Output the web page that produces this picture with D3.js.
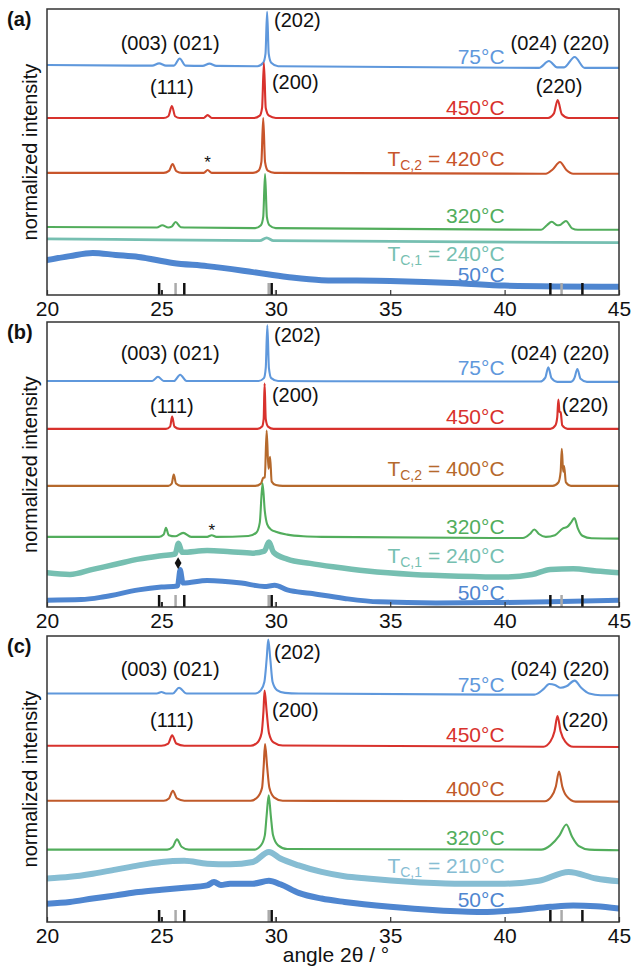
<!DOCTYPE html>
<html><head><meta charset="utf-8">
<script src="https://cdn.jsdelivr.net/npm/d3@7"></script>
<style>
body{margin:0;background:#fff}
svg{display:block}
text{font-family:"Liberation Sans",Arial,Helvetica,sans-serif}
</style>
</head><body>
<svg id="chart" width="632" height="967"></svg>
<script>
// ---------- DATA ----------
const xTicks = [20, 25, 30, 35, 40, 45];
// reference reflection positions (2θ)
const refBlack = [24.9, 26.0, 29.82, 42.0, 43.4];
const refGrey = [25.62, 29.69, 42.49];
const refShortBlack = [25.02];
const refShortGrey = [30.0];

// Panel (a) patterns: [2θ, intensity above the trace offset]
const a75 = [[20,0],[24.6,-0.2],[24.9,0.6],[25.2,-0.2],[25.55,-0.2],[25.8,2.3],[26.05,-0.2],[26.8,-0.3],[27.1,0.5],[27.4,-0.3],[29.2,-0.4],[29.45,0.8],[29.55,4],[29.62,18.6],[29.69,4],[29.8,0.8],[30.1,-0.4],[41.5,-1],[41.94,1.4],[42.3,-0.8],[42.6,-0.8],[43.06,2.8],[43.5,-1],[45,-1]];
const a450 = [[20,0],[25.1,0],[25.3,0.6],[25.46,4.2],[25.6,0.6],[25.8,0],[26.85,0],[27.02,1],[27.2,0],[29.05,0],[29.3,0.8],[29.4,3.5],[29.48,19.2],[29.56,3.5],[29.7,0.8],[30.0,0],[41.9,0],[42.15,1.5],[42.32,6.3],[42.5,1.3],[42.8,0],[45,0]];
const a420 = [[20,0],[25.1,0],[25.33,0.7],[25.49,3.1],[25.65,0.6],[25.9,0],[26.85,0],[27.02,1],[27.2,0],[29.0,0],[29.25,0.8],[29.37,3.8],[29.45,19.2],[29.53,3.8],[29.65,0.8],[29.95,0],[41.8,-0.3],[42.1,1.2],[42.42,3.8],[42.7,1],[43.0,-0.3],[45,-0.3]];
const a320 = [[20,0],[24.8,-0.2],[25.04,0.6],[25.3,-0.2],[25.45,0.1],[25.62,1.7],[25.85,-0.1],[26.2,-0.2],[29.1,-0.4],[29.35,0.6],[29.45,3.5],[29.53,18.5],[29.61,3.5],[29.72,0.6],[30.0,-0.4],[41.6,-1],[41.85,0.6],[42.06,1.8],[42.3,0.6],[42.45,0.8],[42.68,2.1],[42.95,-0.5],[43.2,-1],[45,-1]];
const a240 = [[20,0],[25,-0.3],[29.3,-0.6],[29.6,0.4],[29.9,-0.6],[45,-1.3]];
const a50 = [[20,12.2],[21,13.6],[22,14.7],[23,14],[24,13.3],[25.5,11.2],[27,10.1],[29,8.0],[30.5,6.3],[32,5.2],[35,4.9],[38,4.1],[40,3.3],[45,2.9]];
const offsetsA = [80.4, 61.9, 42.7, 23.8, 19.6, 0];

// Panel (b)
const b75 = [[20,0],[24.6,0],[24.85,1.5],[25.1,0],[25.55,0],[25.82,2.2],[26.1,0],[29.25,0],[29.48,1],[29.56,4.5],[29.63,19.5],[29.7,4.5],[29.8,1],[30.1,0],[41.55,-0.2],[41.78,1.2],[41.91,4.8],[42.05,1],[42.3,-0.3],[42.9,-0.3],[43.05,1],[43.18,4.2],[43.32,0.8],[43.6,-0.3],[45,-0.3]];
const b450 = [[20,0],[25.2,0],[25.38,0.8],[25.47,4.3],[25.57,0.8],[25.8,0],[29.2,0],[29.4,0.8],[29.47,3.5],[29.51,15.9],[29.56,3.5],[29.66,0.8],[29.9,0],[42.0,0],[42.22,1.2],[42.3,4],[42.35,10.3],[42.4,6],[42.45,5.8],[42.52,1.2],[42.75,0],[45,0]];
const b400 = [[20,0],[25.3,0],[25.45,0.8],[25.54,4],[25.64,0.8],[25.85,0],[29.1,0],[29.35,0.8],[29.45,2.8],[29.52,3],[29.6,19.4],[29.68,6],[29.75,10.2],[29.82,1.5],[30.0,0.3],[30.3,0],[42.1,0],[42.35,1.2],[42.45,5],[42.5,13],[42.56,5],[42.6,7],[42.68,1.2],[42.9,0],[45,0]];
const b320 = [[20,0],[24.9,0],[25.1,0.8],[25.2,3.2],[25.32,0.6],[25.6,0.2],[25.95,1.4],[26.3,0],[27.0,0],[27.2,0.6],[27.4,0],[28.8,0.3],[29.15,1.5],[29.3,5],[29.42,18.8],[29.52,9],[29.62,4.5],[29.8,2.5],[30.0,1.8],[30.5,0.8],[31.2,0.2],[32,0],[40.8,-0.4],[41.1,1],[41.3,2.6],[41.5,1],[41.8,0],[42.2,0.6],[42.55,3],[42.75,3.6],[42.9,5],[43.05,6.6],[43.2,3],[43.4,0.4],[43.8,-0.5],[45,-0.6]];
const b240 = [[20,12],[21,11.4],[22,13.2],[23,15],[24,16.8],[25,18],[25.6,18.6],[25.75,22.4],[25.9,19.2],[27,19.8],[28,19.4],[29,18.9],[29.5,19.6],[29.7,22.8],[29.9,19.2],[30.5,16.8],[31.5,15.3],[32.5,14.1],[34,12.6],[36,11.4],[38,10.8],[40,10.5],[41.2,11.4],[42,13.2],[43,13.4],[44,12.6],[45,12]];
const b50 = [[20,2.4],[21.5,2.6],[22.5,3.6],[24,6],[25,7],[25.7,7.4],[25.82,13.2],[25.95,8.4],[27,9.3],[28.5,8.4],[29.5,7.2],[29.95,7.6],[30.5,6],[31.5,4.8],[33,3],[34.5,1.8],[37,1.4],[40,1.6],[42,1.8],[45,2.4]];
const offsetsB = [79.3, 62.5, 42.5, 24.6, 0, 0];

// Panel (c)
const c75 = [[20,0],[24.8,0],[25.0,0.5],[25.2,0],[25.5,0],[25.77,2],[26.1,0],[29.1,0],[29.35,1.2],[29.5,4],[29.6,12],[29.67,18.9],[29.76,12],[29.86,4],[30.05,1.2],[30.4,0.2],[31,0],[41.3,-0.4],[41.7,1.5],[41.95,3.3],[42.2,3],[42.45,2],[42.7,2.5],[43.06,4.5],[43.35,2],[43.7,0],[44.2,-0.6],[45,-0.6]];
const c450 = [[20,0],[25.0,0],[25.3,0.8],[25.47,3.7],[25.65,0.8],[26.0,0],[28.9,0],[29.2,1.2],[29.38,4.5],[29.46,12],[29.51,19.3],[29.6,12],[29.7,4.5],[29.9,1.2],[30.3,0.1],[41.7,-0.3],[42.0,1.5],[42.18,5],[42.31,10.4],[42.45,5],[42.65,1.5],[43.0,-0.3],[45,-0.4]];
const c400 = [[20,0],[25.1,0],[25.33,0.8],[25.5,3.5],[25.68,0.8],[26.0,0],[28.9,0],[29.2,1.2],[29.4,4.5],[29.47,12],[29.53,19.8],[29.62,12],[29.72,4.5],[29.92,1.2],[30.3,0],[41.75,-0.2],[42.05,1.5],[42.24,5],[42.38,10.2],[42.52,5],[42.72,1.5],[43.1,-0.3],[45,-0.3]];
const c320 = [[20,0],[25.25,0],[25.5,1],[25.68,3.6],[25.88,1],[26.2,0],[29.05,0],[29.35,1.5],[29.52,5],[29.6,12],[29.69,19],[29.78,12],[29.88,5],[30.1,1.5],[30.5,0.2],[41.6,0],[42.0,1.5],[42.4,5],[42.7,8.8],[42.95,4.5],[43.25,1.2],[43.7,0],[45,-0.2]];
const c210 = [[20,15.2],[21,15.8],[22,16.9],[23,18.3],[24,19.8],[25,21],[26,21.4],[27,20.4],[28,20.2],[29,21],[29.7,24.5],[30.2,22.2],[31,19.8],[32,17.5],[33,16],[34,15.2],[36,14],[38,13.4],[40,13.4],[41.5,14.4],[42.8,17.5],[44,15.2],[45,14.2]];
const c50 = [[20,6.4],[21,7],[22,8.2],[23,9.3],[24,10.5],[25,11.3],[26,12],[27,12.8],[27.3,14],[27.6,12.9],[28,13.4],[29,13.4],[29.7,14.4],[30.2,13.2],[31,10.2],[32,8.2],[33,7],[35,5.3],[37,4.1],[39,3.5],[40.5,4.1],[42,5.3],[43,5.8],[44,5.5],[45,4.7]];
const offsetsC = [79.9, 61.6, 42.4, 25.3, 0, 0];

// temperature labels
const tempA = [["","75°C"],["","450°C"],["C,2"," = 420°C"],["","320°C"],["C,1"," = 240°C"],["","50°C"]];
const tempB = [["","75°C"],["","450°C"],["C,2"," = 400°C"],["","320°C"],["C,1"," = 240°C"],["","50°C"]];
const tempC = [["","75°C"],["","450°C"],["","400°C"],["","320°C"],["C,1"," = 210°C"],["","50°C"]];

// ---------- LAYOUT / STYLE ----------
const svg = d3.select("#chart");
const x = d3.scaleLinear().domain([20, 45]).range([47, 619]);

const cBlue75 = "#5f98dc", cRed = "#d8322d", cGreen = "#52ad5c", cTeal = "#76bfb1", cBlue50 = "#4f86d0";
const panels = [
  { tag: "(a)", top: 9, bottom: 295, series: [a75,a450,a420,a320,a240,a50], offsets: offsetsA, temps: tempA,
    colors: [cBlue75, cRed, "#c8552b", cGreen, cTeal, cBlue50],
    widths: [2.1,2.1,2.1,2.1,2.8,6],
    tempY: [80.8, 62.9, 45.1, 25.2, 12.0, 4.4],
    hkl: [["(003) (021)",25.38,85.7,"middle"],["(202)",29.92,93.7,"start"],["(111)",25.46,70.3,"middle"],["(200)",29.83,72,"start"],["(024) (220)",42.42,85.7,"middle"],["(220)",42.38,70.6,"middle"]],
    star: [27.02, 44.5], diamond: null },
  { tag: "(b)", top: 322, bottom: 607, series: [b75,b450,b400,b320,b240,b50], offsets: offsetsB, temps: tempB,
    colors: [cBlue75, cRed, "#b5692c", cGreen, cTeal, cBlue50],
    widths: [2.1,2.1,2.1,2.1,5.5,5],
    tempY: [81.4, 64.2, 46, 25.7, 15.6, 2.5],
    hkl: [["(003) (021)",25.38,86.7,"middle"],["(202)",29.92,93,"start"],["(111)",25.46,68.1,"middle"],["(200)",29.83,71.9,"start"],["(024) (220)",42.42,86.7,"middle"],["(220)",42.5,68.4,"start"]],
    star: [27.2, 24.8], diamond: [25.73, 15.4] },
  { tag: "(c)", top: 636, bottom: 922, series: [c75,c450,c400,c320,c210,c50], offsets: offsetsC, temps: tempC,
    colors: [cBlue75, cRed, "#c05a2a", cGreen, "#86bdd3", cBlue50],
    widths: [2.1,2.1,2.1,2.1,6,6],
    tempY: [80.5, 63, 44, 26.9, 17.1, 5.3],
    hkl: [["(003) (021)",25.38,86,"middle"],["(202)",29.92,92,"start"],["(111)",25.46,68.3,"middle"],["(200)",29.83,71.8,"start"],["(024) (220)",42.42,86,"middle"],["(220)",42.5,68.3,"start"]],
    star: null, diamond: null }
];

panels.forEach((p, pi) => {
  const y = d3.scaleLinear().domain([0, 100]).range([p.bottom, p.top]);
  const g = svg.append("g");
  const clipId = "clip" + pi;
  svg.append("defs").append("clipPath").attr("id", clipId)
    .append("rect").attr("x", x(20)).attr("y", p.top).attr("width", x(45) - x(20)).attr("height", p.bottom - p.top);

  const traces = g.append("g").attr("clip-path", `url(#${clipId})`);
  p.series.forEach((s, i) => {
    const line = d3.line().x(d => x(d[0])).y(d => y(d[1] + p.offsets[i])).curve(d3.curveMonotoneX);
    traces.append("path").attr("d", line(s)).attr("fill", "none")
      .attr("stroke", p.colors[i]).attr("stroke-width", p.widths[i])
      .attr("stroke-linejoin", "round").attr("stroke-linecap", "round");
  });

  // reference markers
  const bars = g.append("g");
  bars.selectAll(".rg").data(refGrey).join("line")
    .attr("x1", d => x(d)).attr("x2", d => x(d)).attr("y1", p.bottom).attr("y2", p.bottom - 12)
    .attr("stroke", "#aaaaaa").attr("stroke-width", 2.5);
  bars.selectAll(".rsg").data(refShortGrey).join("line")
    .attr("x1", d => x(d)).attr("x2", d => x(d)).attr("y1", p.bottom).attr("y2", p.bottom - 5)
    .attr("stroke", "#888").attr("stroke-width", 2);
  bars.selectAll(".rb").data(refBlack).join("line")
    .attr("x1", d => x(d)).attr("x2", d => x(d)).attr("y1", p.bottom).attr("y2", p.bottom - 12)
    .attr("stroke", "#111").attr("stroke-width", 2.5);
  bars.selectAll(".rsb").data(refShortBlack).join("line")
    .attr("x1", d => x(d)).attr("x2", d => x(d)).attr("y1", p.bottom).attr("y2", p.bottom - 5)
    .attr("stroke", "#111").attr("stroke-width", 2);

  // frame
  g.append("rect").attr("x", x(20)).attr("y", p.top).attr("width", x(45) - x(20)).attr("height", p.bottom - p.top)
    .attr("fill", "none").attr("stroke", "#333").attr("stroke-width", 1.5);

  // x axis
  const ax = g.append("g").attr("transform", `translate(0,${p.bottom})`)
    .call(d3.axisBottom(x).tickValues(xTicks).tickSize(-5).tickPadding(6).tickFormat(d3.format("d")));
  ax.select(".domain").remove();
  ax.selectAll(".tick line").attr("stroke", "#333").attr("stroke-width", 1.2);
  ax.selectAll(".tick text").attr("font-size", 21).attr("fill", "#111")
    .attr("font-family", '"Liberation Sans",Arial,Helvetica,sans-serif');

  // panel tag
  g.append("text").attr("x", 7).attr("y", p.top + 17).attr("font-size", 20).attr("font-weight", "bold")
    .attr("fill", "#111").text(p.tag);

  // y label
  g.append("text").attr("transform", `translate(37,${(p.top + p.bottom) / 2}) rotate(-90)`)
    .attr("text-anchor", "middle").attr("font-size", 20).attr("fill", "#111").text("normalized intensity");

  // temperature labels
  p.temps.forEach((t, i) => {
    const tx = g.append("text").attr("x", x(40)).attr("y", y(p.tempY[i])).attr("text-anchor", "end")
      .attr("font-size", 21).attr("fill", p.colors[i]);
    if (t[0]) {
      tx.append("tspan").text("T");
      tx.append("tspan").attr("font-size", 14).attr("dy", 4).text(t[0]);
      tx.append("tspan").attr("dy", -4).text(t[1]);
    } else {
      tx.text(t[1]);
    }
  });

  // hkl labels
  p.hkl.forEach(h => {
    g.append("text").attr("x", x(h[1])).attr("y", y(h[2])).attr("text-anchor", h[3])
      .attr("font-size", 20).attr("fill", "#111").text(h[0]);
  });

  if (p.star) {
    g.append("text").attr("x", x(p.star[0])).attr("y", y(p.star[1])).attr("text-anchor", "middle")
      .attr("font-size", 17).attr("fill", "#111").text("*");
  }
  if (p.diamond) {
    g.append("path").attr("d", d3.symbol(d3.symbolDiamond, 40)())
      .attr("transform", `translate(${x(p.diamond[0])},${y(p.diamond[1])})`).attr("fill", "#111");
  }
});

// x-axis title
svg.append("text").attr("x", 336).attr("y", 962).attr("text-anchor", "middle")
  .attr("font-size", 21).attr("fill", "#111").text("angle 2θ / °");
</script>
</body></html>
